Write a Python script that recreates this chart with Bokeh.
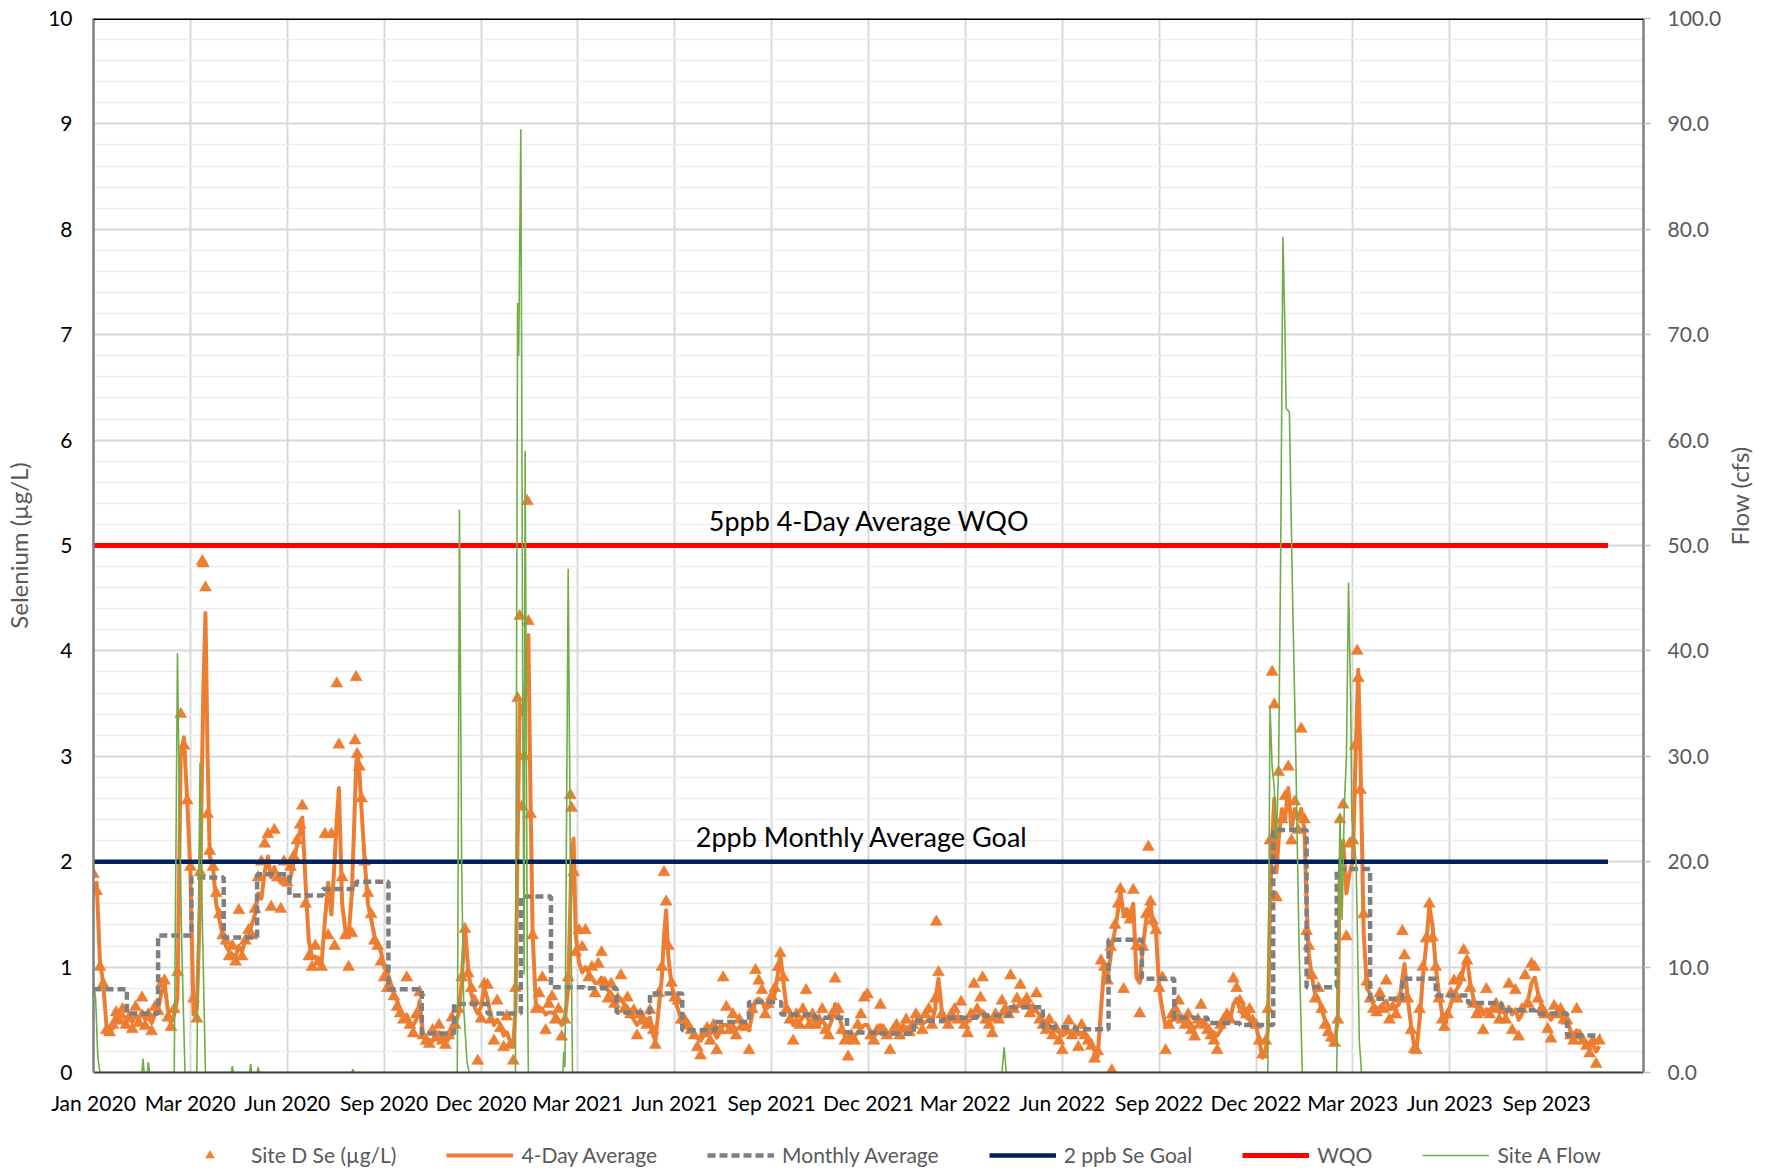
import math
import pandas as pd
from bokeh.plotting import figure
from bokeh.layouts import column
from bokeh.models import (Range1d, LinearAxis, FixedTicker, DatetimeTickFormatter,
                          NumeralTickFormatter, Legend, LegendItem, Span, Label)
from bokeh.embed import file_html
from bokeh.resources import INLINE

FONT = "Lato"
START = pd.Timestamp("2020-01-01")

# ---------------- data (day offsets from 2020-01-01) ----------------
se_day = [
    0, 3, 6, 9, 12, 15, 18, 21, 24, 27, 30,
    33, 36, 39, 42, 45, 48, 51, 54, 57,
    60, 63, 66, 69, 72, 75, 78, 81, 84, 87, 90,
    93, 96, 99, 101, 102, 104, 106, 108, 111, 114, 117, 120,
    123, 126, 129, 132, 135, 138, 141, 144, 147, 150,
    153, 156, 159, 162, 165, 168, 171, 174, 177, 180,
    183, 186, 189, 192, 194, 197, 200, 203, 206, 209, 212,
    215, 218, 221, 224, 226, 228, 231, 234, 237, 240, 243,
    244, 245, 247, 249, 252, 255, 258, 261, 264, 267, 270, 273,
    276, 279, 282, 285, 288, 291, 294, 297, 300, 303,
    306, 309, 312, 315, 318, 321, 324, 327, 330, 333,
    336, 339, 342, 345, 348, 351, 354, 357, 360, 363,
    366, 369, 372, 375, 378, 381, 384, 387, 390,
    392, 394, 396, 398, 400, 403, 404, 406, 408, 411, 414, 417, 420, 423,
    426, 429, 432, 435, 438, 441, 443, 444, 446, 448, 451, 454,
    457, 460, 463, 466, 469, 472, 475, 478, 481, 484,
    487, 490, 493, 496, 499, 502, 505, 508, 511, 514,
    517, 520, 522, 525, 528, 530, 532, 534, 537, 540, 543, 546,
    549, 552, 555, 558, 561, 564, 567, 570, 573, 576,
    579, 582, 585, 588, 591, 594, 597, 600, 603, 606,
    609, 612, 615, 618, 621, 624, 627, 630, 633, 636, 638,
    641, 644, 647, 650, 653, 656, 659, 662, 665, 668,
    671, 674, 677, 680, 683, 686, 689, 692, 695, 698,
    701, 704, 707, 710, 713, 716, 719, 722, 725, 728,
    731, 734, 737, 740, 743, 746, 749, 752, 755, 758,
    761, 764, 767, 770, 773, 776, 779, 782, 783, 785, 788,
    791, 794, 797, 800, 803, 806, 809, 812, 815, 818,
    821, 824, 826, 829, 832, 835, 838, 841, 844, 847, 850,
    852, 855, 858, 861, 864, 867, 870, 873, 876, 879,
    882, 885, 888, 891, 894, 897, 900, 903, 906, 909,
    912, 915, 918, 921, 924, 927, 930, 933, 936, 939, 942,
    945, 946, 949, 952, 954, 957, 960, 963, 966, 969, 972,
    975, 978, 980, 982, 984, 987, 990, 993, 996, 999, 1002,
    1005, 1008, 1011, 1014, 1017, 1020, 1023, 1026, 1029, 1032,
    1035, 1038, 1041, 1044, 1047, 1050, 1053, 1056, 1059, 1062,
    1065, 1068, 1071, 1074, 1077, 1080, 1083, 1086, 1089, 1091, 1093,
    1095, 1097, 1099, 1101, 1104, 1107, 1110, 1113, 1116, 1119, 1122, 1125,
    1127, 1129, 1132, 1135, 1138, 1141, 1144, 1147, 1150, 1153,
    1156, 1158, 1161, 1164, 1167, 1170, 1172, 1174, 1175, 1177, 1180, 1183,
    1186, 1189, 1192, 1195, 1198, 1201, 1204, 1207, 1210, 1213,
    1216, 1218, 1221, 1224, 1227, 1229, 1232, 1235, 1238, 1241, 1244,
    1247, 1250, 1253, 1255, 1258, 1261, 1264, 1267, 1270, 1273, 1276,
    1279, 1282, 1285, 1288, 1291, 1294, 1297, 1300, 1303, 1306,
    1309, 1312, 1315, 1318, 1321, 1324, 1327, 1330, 1333, 1336,
    1339, 1342, 1345, 1348, 1351, 1354, 1357, 1360, 1363, 1366,
    1369, 1372, 1375, 1378, 1381, 1384, 1387, 1390, 1393, 1396, 1399,
]

site_d_se = [
    1.88, 1.72, 1.00, 0.84, 0.40, 0.38, 0.45, 0.57, 0.49, 0.60, 0.45,
    0.52, 0.41, 0.62, 0.47, 0.71, 0.44, 0.55, 0.39, 0.62,
    0.58, 0.84, 0.87, 0.52, 0.43, 0.60, 0.95, 3.40, 3.10, 2.58, 1.95,
    0.70, 0.51, 1.90, 4.85, 4.83, 4.60, 2.45, 2.10, 1.95, 1.70, 1.50, 1.30,
    1.25, 1.10, 1.20, 1.05, 1.54, 1.10, 1.25, 1.35, 1.30, 1.55,
    1.85, 2.00, 2.17, 2.26, 1.57, 2.30, 1.85, 1.55, 2.00, 1.80,
    1.95, 2.05, 2.20, 2.35, 2.53, 1.60, 1.10, 1.00, 1.20, 1.05, 1.00,
    2.26, 1.30, 2.26, 1.20, 3.69, 3.11, 1.85, 1.30, 1.00, 1.32, 3.15,
    3.75, 3.02, 2.90, 2.60, 2.00, 1.70, 1.50, 1.25, 1.20, 1.05, 0.90, 0.80,
    0.80, 0.72, 0.62, 0.56, 0.50, 0.90, 0.45, 0.37, 0.55, 0.76,
    0.35, 0.30, 0.27, 0.40, 0.33, 0.45, 0.30, 0.26, 0.35, 0.52,
    0.45, 0.60, 0.90, 1.36, 0.94, 0.80, 0.68, 0.11, 0.51, 0.84,
    0.83, 0.50, 0.30, 0.68, 0.42, 0.24, 0.53, 0.26, 0.11,
    0.80, 3.55, 4.33, 2.52, 3.00, 5.42, 4.28, 2.45, 1.30, 0.60, 0.75, 0.90, 0.40, 0.65,
    0.72, 0.50, 0.60, 0.34, 0.50, 0.90, 2.63, 2.51, 1.90, 1.14, 1.35, 1.19,
    1.35, 0.90, 1.00, 0.75, 1.03, 1.14, 0.85, 0.70, 0.84, 0.65,
    0.70, 0.92, 0.60, 0.71, 0.55, 0.59, 0.35, 0.55, 0.49, 0.45,
    0.59, 0.40, 0.26, 0.75, 1.00, 1.90, 1.62, 1.20, 0.85, 0.71, 0.68, 0.50,
    0.50, 0.45, 0.40, 0.35, 0.24, 0.16, 0.37, 0.42, 0.30, 0.45,
    0.21, 0.40, 0.90, 0.62, 0.40, 0.55, 0.35, 0.50, 0.45, 0.43,
    0.21, 0.60, 0.97, 0.87, 0.78, 0.55, 0.65, 0.72, 0.80, 1.00, 1.13,
    0.90, 0.60, 0.50, 0.30, 0.55, 0.45, 0.60, 0.78, 0.45, 0.55,
    0.45, 0.50, 0.60, 0.40, 0.35, 0.55, 0.89, 0.60, 0.40, 0.30,
    0.15, 0.35, 0.30, 0.45, 0.55, 0.71, 0.74, 0.35, 0.30, 0.40,
    0.64, 0.40, 0.35, 0.21, 0.40, 0.45, 0.35, 0.42, 0.50, 0.38,
    0.45, 0.55, 0.50, 0.40, 0.55, 0.60, 0.45, 0.70, 1.43, 0.95, 0.55,
    0.50, 0.45, 0.55, 0.60, 0.50, 0.67, 0.45, 0.37, 0.55, 0.84,
    0.60, 0.71, 0.90, 0.50, 0.45, 0.37, 0.55, 0.50, 0.68, 0.60, 0.55,
    0.92, 0.60, 0.70, 0.83, 0.65, 0.70, 0.56, 0.60, 0.75, 0.50,
    0.45, 0.40, 0.50, 0.35, 0.42, 0.30, 0.21, 0.40, 0.49, 0.35,
    0.40, 0.24, 0.45, 0.35, 0.30, 0.25, 0.13, 0.20, 1.06, 1.00, 0.87,
    1.19, 0.02, 1.40, 1.60, 1.74, 0.79, 1.50, 1.45, 1.73, 1.20, 0.56,
    1.19, 1.50, 2.14, 1.62, 1.44, 1.35, 0.80, 0.90, 0.21, 0.45, 0.55,
    0.60, 0.68, 0.50, 0.45, 0.55, 0.40, 0.34, 0.50, 0.64, 0.45,
    0.40, 0.35, 0.30, 0.21, 0.45, 0.50, 0.55, 0.50, 0.89, 0.80,
    0.68, 0.60, 0.55, 0.60, 0.49, 0.45, 0.30, 0.17, 0.30, 0.60, 2.20,
    3.80, 3.49, 1.66, 2.85, 2.40, 2.62, 2.90, 2.20, 2.57, 2.30, 3.26, 2.40,
    1.34, 1.20, 0.92, 0.70, 0.80, 0.60, 0.45, 0.38, 0.33, 0.28,
    0.50, 2.40, 2.54, 1.29, 2.17, 2.20, 3.10, 4.00, 3.74, 2.68, 1.50, 0.86,
    0.70, 0.60, 0.57, 0.75, 0.60, 0.87, 0.50, 0.62, 0.55, 0.70,
    1.34, 1.11, 0.70, 0.40, 0.22, 0.21, 0.60, 1.00, 1.27, 1.60, 1.28,
    1.00, 0.70, 0.50, 0.43, 0.55, 0.75, 0.87, 0.70, 0.90, 1.16, 1.06,
    0.80, 0.65, 0.55, 0.60, 0.40, 0.79, 0.55, 0.60, 0.65, 0.50,
    0.60, 0.50, 0.84, 0.40, 0.78, 0.34, 0.60, 0.92, 0.65, 1.03,
    1.00, 0.70, 0.60, 0.55, 0.41, 0.32, 0.63, 0.55, 0.60, 0.50,
    0.49, 0.35, 0.30, 0.60, 0.35, 0.30, 0.25, 0.18, 0.30, 0.08, 0.30,
]

avg_4day = [
    1.70, 1.80, 1.05, 0.85, 0.45, 0.40, 0.42, 0.55, 0.52, 0.55, 0.50,
    0.50, 0.48, 0.55, 0.50, 0.58, 0.50, 0.52, 0.47, 0.55,
    0.60, 0.75, 0.85, 0.60, 0.47, 0.55, 0.70, 3.00, 3.18, 2.60, 1.90,
    0.55, 0.60, 1.60, 3.00, 3.60, 4.36, 3.00, 2.05, 1.95, 1.60, 1.45, 1.30,
    1.20, 1.15, 1.12, 1.10, 1.20, 1.15, 1.25, 1.30, 1.40, 1.50,
    1.70, 1.65, 1.90, 2.05, 1.85, 1.95, 1.85, 1.80, 1.85, 1.79,
    1.85, 2.00, 2.15, 2.30, 2.42, 1.80, 1.25, 1.10, 1.10, 1.05, 1.05,
    1.44, 1.80, 1.50, 2.00, 2.40, 2.70, 1.60, 1.35, 1.30, 1.70, 2.60,
    2.90, 3.05, 2.85, 2.50, 2.00, 1.60, 1.45, 1.30, 1.20, 1.15, 1.00, 0.95,
    0.85, 0.75, 0.68, 0.60, 0.52, 0.55, 0.46, 0.45, 0.50, 0.68,
    0.37, 0.32, 0.30, 0.30, 0.35, 0.38, 0.33, 0.27, 0.32, 0.45,
    0.45, 0.55, 0.85, 1.39, 1.00, 0.75, 0.62, 0.56, 0.62, 0.81,
    0.70, 0.55, 0.45, 0.50, 0.45, 0.35, 0.38, 0.30, 0.25,
    0.60, 2.17, 3.50, 3.40, 3.45, 3.90, 4.15, 2.60, 1.30, 0.65, 0.62, 0.60, 0.55, 0.57,
    0.57, 0.55, 0.50, 0.45, 0.50, 0.80, 1.60, 2.00, 2.22, 1.30, 1.05, 0.95,
    1.00, 0.95, 0.90, 0.85, 0.85, 0.90, 0.82, 0.78, 0.75, 0.70,
    0.68, 0.70, 0.65, 0.62, 0.55, 0.50, 0.45, 0.50, 0.48, 0.50,
    0.52, 0.35, 0.30, 0.60, 0.90, 1.30, 1.54, 1.10, 0.84, 0.70, 0.60, 0.50,
    0.45, 0.42, 0.40, 0.37, 0.33, 0.30, 0.35, 0.38, 0.37, 0.40,
    0.33, 0.38, 0.45, 0.45, 0.42, 0.45, 0.40, 0.43, 0.42, 0.45,
    0.40, 0.55, 0.68, 0.70, 0.68, 0.60, 0.62, 0.68, 0.75, 0.95, 1.13,
    0.85, 0.60, 0.56, 0.45, 0.50, 0.48, 0.52, 0.55, 0.48, 0.50,
    0.48, 0.45, 0.50, 0.45, 0.42, 0.50, 0.65, 0.55, 0.45, 0.35,
    0.30, 0.33, 0.35, 0.38, 0.42, 0.45, 0.45, 0.38, 0.35, 0.37,
    0.45, 0.42, 0.38, 0.35, 0.38, 0.40, 0.38, 0.40, 0.43, 0.42,
    0.45, 0.47, 0.47, 0.46, 0.48, 0.50, 0.49, 0.60, 0.75, 0.89, 0.60,
    0.50, 0.48, 0.50, 0.52, 0.50, 0.53, 0.50, 0.48, 0.50, 0.55,
    0.53, 0.56, 0.58, 0.55, 0.52, 0.50, 0.52, 0.53, 0.56, 0.57, 0.58,
    0.60, 0.60, 0.62, 0.66, 0.65, 0.66, 0.64, 0.60, 0.58, 0.55,
    0.50, 0.45, 0.45, 0.42, 0.40, 0.38, 0.35, 0.37, 0.40, 0.38,
    0.40, 0.36, 0.38, 0.37, 0.33, 0.30, 0.20, 0.15, 0.60, 1.00, 0.90,
    1.10, 1.20, 1.35, 1.55, 1.73, 1.50, 1.55, 1.50, 1.60, 0.90, 0.85,
    1.20, 1.45, 1.55, 1.63, 1.40, 1.35, 0.80, 0.60, 0.43, 0.45, 0.50,
    0.50, 0.55, 0.52, 0.50, 0.50, 0.45, 0.42, 0.45, 0.50, 0.47,
    0.45, 0.40, 0.38, 0.35, 0.40, 0.45, 0.48, 0.50, 0.65, 0.70,
    0.60, 0.55, 0.52, 0.50, 0.48, 0.45, 0.30, 0.14, 0.20, 0.40, 1.60,
    2.20, 2.60, 1.90, 2.20, 2.50, 2.40, 2.70, 2.30, 2.50, 2.40, 2.50, 2.30,
    1.60, 1.13, 0.90, 0.75, 0.70, 0.60, 0.50, 0.45, 0.30, 0.28,
    0.50, 2.00, 2.20, 1.70, 1.90, 2.00, 2.80, 3.50, 3.82, 3.00, 1.34, 0.80,
    0.75, 0.65, 0.60, 0.62, 0.65, 0.68, 0.60, 0.62, 0.62, 0.65,
    0.90, 1.03, 0.70, 0.45, 0.25, 0.21, 0.50, 0.90, 1.20, 1.58, 1.40,
    1.00, 0.75, 0.55, 0.43, 0.55, 0.65, 0.75, 0.80, 0.85, 1.00, 1.09,
    0.85, 0.70, 0.62, 0.60, 0.55, 0.60, 0.58, 0.60, 0.62, 0.57,
    0.58, 0.55, 0.62, 0.55, 0.60, 0.50, 0.55, 0.65, 0.70, 0.85,
    0.90, 0.75, 0.65, 0.60, 0.55, 0.50, 0.55, 0.58, 0.57, 0.55,
    0.50, 0.40, 0.35, 0.40, 0.32, 0.30, 0.28, 0.25, 0.27, 0.20, 0.25,
]

# monthly average, Jan 2020 .. Oct 2023
monthly_avg = [
    0.79, 0.56, 1.30, 1.85, 1.28, 1.88, 1.68, 1.74, 1.81, 0.79, 0.37, 0.65,
    0.56, 1.67, 0.81, 0.80, 0.57, 0.75, 0.40, 0.48, 0.67, 0.55, 0.52, 0.38,
    0.37, 0.49, 0.52, 0.54, 0.62, 0.43, 0.41, 1.26, 0.89, 0.52, 0.47, 0.45,
    2.30, 0.81, 1.93, 0.70, 0.89, 0.73, 0.66, 0.59, 0.56, 0.35,
]

# Site A flow (cfs)
flow_day = [0, 2, 4, 6, 45, 46, 47, 50, 51, 52,
            75, 78, 80, 82, 85, 96, 99, 101, 104,
            128, 129, 130, 145, 146, 147, 152, 153, 154, 240, 241, 242,
            338, 340, 342, 344, 347, 349,
            392, 394, 395, 397, 399, 400, 401, 403, 404,
            436, 437, 438, 441, 443, 445,
            844, 846, 848,
            1091, 1093, 1095, 1097, 1099, 1101, 1103, 1105, 1107, 1108, 1111, 1114, 1117, 1120, 1123,
            1155, 1158, 1160, 1162, 1164, 1166, 1168, 1169, 1171, 1173, 1176, 1178,
            1437]
flow_cfs = [8.6, 7.0, 1.5, 0.0, 0.0, 1.3, 0.0, 0.0, 1.0, 0.0,
            0.0, 39.8, 24.0, 12.0, 0.0, 0.0, 29.4, 15.0, 0.0,
            0.0, 0.6, 0.0, 0.0, 0.8, 0.0, 0.0, 0.5, 0.0, 0.0, 0.3, 0.0,
            0.0, 53.4, 20.0, 6.0, 1.0, 0.0,
            0.0, 73.0, 68.0, 89.5, 30.0, 9.3, 59.0, 10.0, 0.0,
            0.0, 2.0, 0.5, 47.8, 20.0, 0.0,
            0.0, 2.4, 0.0,
            0.0, 34.8, 29.0, 27.0, 22.0, 29.0, 50.0, 79.3, 70.0, 63.0, 62.7, 45.0, 30.0, 12.0, 0.0,
            0.0, 24.4, 14.5, 25.0, 30.0, 46.5, 35.0, 24.0, 22.0, 20.0, 3.0, 0.0,
            0.0]

goal_ppb = 2
wqo_ppb = 5
criteria_end = "2023-11-08"
data_end = "2023-11-01"

x_tick_days = list(range(0, 1351, 90))
axis_end_day = 1440

assert len(se_day) == len(site_d_se) == len(avg_4day), (len(se_day), len(site_d_se), len(avg_4day))
assert len(flow_day) == len(flow_cfs), (len(flow_day), len(flow_cfs))

# ---------------- derived date columns ----------------
se_dates = START + pd.to_timedelta(se_day, unit="D")
flow_dates = START + pd.to_timedelta(flow_day, unit="D")
mon_dates = list(pd.date_range(START, periods=len(monthly_avg), freq="MS")) + [pd.Timestamp(data_end)]
mon_vals = monthly_avg + [monthly_avg[-1]]
crit_x = [START, pd.Timestamp(criteria_end)]


def ms(ts):
    return ts.timestamp() * 1000.0


x0 = START
x1 = START + pd.Timedelta(days=axis_end_day)

W = 1778
MAIN_H = 1134
LEG_H = 39

# ---------------- style ----------------
C_SE = "#ED7D31"
C_MON = "#7F7F7F"
C_GOAL = "#002060"
C_WQO = "#FF0000"
C_FLOW = "#70AD47"
se_style = dict(marker="triangle", size=12, fill_color=C_SE, line_color=C_SE, line_width=0.5)
avg_style = dict(line_color=C_SE, line_width=4, line_join="round")
mon_style = dict(line_color=C_MON, line_width=4.5, line_dash="8 4")
goal_style = dict(line_color=C_GOAL, line_width=4.5)
wqo_style = dict(line_color=C_WQO, line_width=5)
flow_style = dict(line_color=C_FLOW, line_width=1.6)

p = figure(width=W, height=MAIN_H, x_axis_type="datetime",
           x_range=Range1d(ms(x0), ms(x1)), y_range=Range1d(0, 10),
           output_backend="svg", toolbar_location=None,
           min_border_left=93, min_border_right=135, min_border_top=18,
           min_border_bottom=MAIN_H - 1072)
p.extra_y_ranges = {"flow": Range1d(0, 100)}
p.outline_line_color = None
p.background_fill_color = "white"
p.border_fill_color = "white"

# x axis
p.xaxis.ticker = FixedTicker(ticks=[ms(START + pd.Timedelta(days=d)) for d in x_tick_days], minor_ticks=[])
p.xaxis.formatter = DatetimeTickFormatter(days="%b %Y", months="%b %Y", years="%b %Y")
p.xaxis.major_label_text_font = FONT
p.xaxis.major_label_text_font_size = "21px"
p.xaxis.major_label_text_color = "black"
p.xaxis.major_label_standoff = 17
p.xaxis.major_tick_out = 0
p.xaxis.major_tick_in = 0
p.xaxis.minor_tick_out = 0
p.xaxis.minor_tick_in = 0
p.xaxis.axis_line_color = "#404040"
p.xaxis.axis_line_width = 2
p.xgrid.grid_line_color = "#d9d9d9"
p.xgrid.grid_line_width = 2

# left y axis
p.yaxis.ticker = FixedTicker(ticks=list(range(0, 11)), minor_ticks=[i * 0.2 for i in range(51)])
p.yaxis.axis_label = "Selenium (µg/L)"
p.yaxis.axis_label_text_font = FONT
p.yaxis.axis_label_text_font_size = "24px"
p.yaxis.axis_label_text_font_style = "normal"
p.yaxis.axis_label_text_color = "#595959"
p.yaxis.axis_label_standoff = 12
p.yaxis.major_label_text_font = FONT
p.yaxis.major_label_text_font_size = "21px"
p.yaxis.major_label_text_color = "black"
p.yaxis.major_label_standoff = 21
p.yaxis.major_tick_out = 0
p.yaxis.major_tick_in = 0
p.yaxis.minor_tick_out = 0
p.yaxis.minor_tick_in = 0
p.yaxis.axis_line_color = "#7f7f7f"
p.yaxis.axis_line_width = 2.5
p.ygrid.grid_line_color = "#d9d9d9"
p.ygrid.grid_line_width = 2
p.ygrid.minor_grid_line_color = "#ededed"
p.ygrid.minor_grid_line_width = 1.5

# right y axis
ax2 = LinearAxis(y_range_name="flow",
                 ticker=FixedTicker(ticks=list(range(0, 101, 10)), minor_ticks=[]),
                 formatter=NumeralTickFormatter(format="0.0"),
                 axis_label="Flow (cfs)")
ax2.axis_label_text_font = FONT
ax2.axis_label_text_font_size = "24px"
ax2.axis_label_text_font_style = "normal"
ax2.axis_label_text_color = "#595959"
ax2.axis_label_standoff = 15
ax2.axis_label_orientation = math.pi / 2
ax2.major_label_text_font = FONT
ax2.major_label_text_font_size = "21px"
ax2.major_label_text_color = "#595959"
ax2.major_label_standoff = 17
ax2.major_tick_out = 7
ax2.major_tick_in = 0
ax2.major_tick_line_color = "#bfbfbf"
ax2.major_tick_line_width = 1.5
ax2.minor_tick_out = 0
ax2.minor_tick_in = 0
ax2.axis_line_color = "#7f7f7f"
ax2.axis_line_width = 2.5
p.add_layout(ax2, "right")

# top border line
p.add_layout(Span(location=10, dimension="width", line_color="black", line_width=3))

# ---------------- series ----------------
p.scatter(se_dates, site_d_se, **se_style)
p.line(se_dates, avg_4day, **avg_style)
p.step(mon_dates, mon_vals, mode="after", **mon_style)
p.line(crit_x, [goal_ppb, goal_ppb], **goal_style)
p.line(crit_x, [wqo_ppb, wqo_ppb], **wqo_style)
p.line(flow_dates, flow_cfs, y_range_name="flow", **flow_style)

# annotations
p.add_layout(Label(x=ms(START + pd.Timedelta(days=721)), y=5.24, text="5ppb 4-Day Average WQO",
                   text_align="center", text_baseline="alphabetic", text_font=FONT,
                   text_font_size="27px", text_color="black"))
p.add_layout(Label(x=ms(START + pd.Timedelta(days=714)), y=2.24, text="2ppb Monthly Average Goal",
                   text_align="center", text_baseline="alphabetic", text_font=FONT,
                   text_font_size="27px", text_color="black"))

# ---------------- legend strip (key glyphs share the series styles) ----------------
lp = figure(width=W, height=LEG_H, x_range=Range1d(0, 1), y_range=Range1d(0, 1),
            x_axis_type=None, y_axis_type=None, output_backend="svg",
            toolbar_location=None, min_border=0)
lp.outline_line_color = None
lp.grid.visible = False
nan = [float("nan")]
k_se = lp.scatter(nan, nan, **se_style)
k_avg = lp.line(nan, nan, **avg_style)
k_mon = lp.line(nan, nan, **mon_style)
k_goal = lp.line(nan, nan, **goal_style)
k_wqo = lp.line(nan, nan, **wqo_style)
k_flow = lp.line(nan, nan, **flow_style)

legend = Legend(items=[
    LegendItem(label="Site D Se (µg/L)", renderers=[k_se]),
    LegendItem(label="4-Day Average", renderers=[k_avg]),
    LegendItem(label="Monthly Average", renderers=[k_mon]),
    LegendItem(label="2 ppb Se Goal", renderers=[k_goal]),
    LegendItem(label="WQO", renderers=[k_wqo]),
    LegendItem(label="Site A Flow", renderers=[k_flow]),
], orientation="horizontal", location=(83, 6), glyph_width=67, glyph_height=22,
    label_standoff=8, spacing=50, padding=0, margin=0,
    border_line_color=None, background_fill_alpha=0,
    label_text_font=FONT, label_text_font_size="21px", label_text_color="#595959")
lp.add_layout(legend)

layout = column(p, lp, spacing=0)
open("out.html", "w").write(file_html(layout, INLINE))
